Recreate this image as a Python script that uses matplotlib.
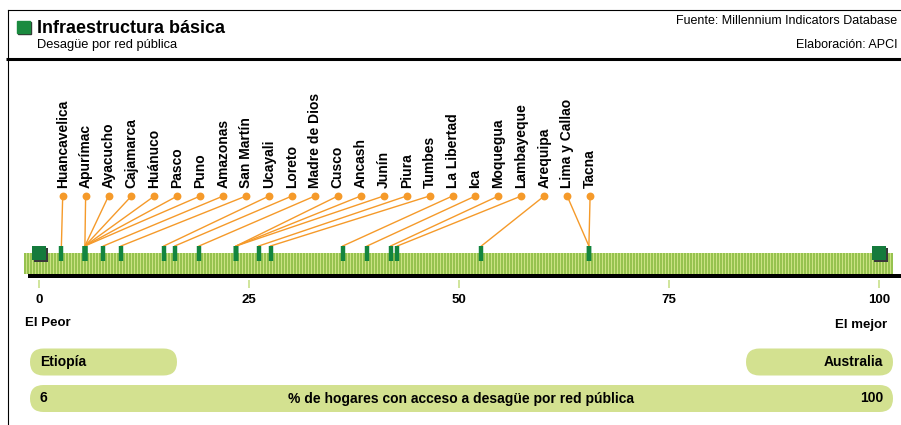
import numpy as np
import matplotlib
matplotlib.use("Agg")
import matplotlib.pyplot as plt
from matplotlib.patches import Rectangle, FancyBboxPatch

# regiones ordenadas de menor a mayor (% hogares con desague por red publica)
regions = ["Huancavelica", "Apurímac", "Ayacucho", "Cajamarca", "Huánuco", "Pasco",
           "Puno", "Amazonas", "San Martín", "Ucayali", "Loreto", "Madre de Dios",
           "Cusco", "Ancash", "Junín", "Piura", "Tumbes", "La Libertad", "Ica",
           "Moquegua", "Lambayeque", "Arequipa", "Lima y Callao", "Tacna"]
values = [2.7, 5.5, 5.5, 5.5, 5.5, 5.5, 5.5, 7.7, 9.8, 14.9, 16.2, 19.1,
          23.5, 23.5, 23.5, 26.2, 27.6, 36.2, 39.1, 41.9, 42.7, 52.7, 65.5, 65.5]
ticks = [0, 25, 50, 75, 100]
worst_name, best_name = "Etiopía", "Australia"
worst_val, best_val = "6", "100"

W, H = 901, 425
X0, PPU = 38.7, 8.4          # pixel of value 0, pixels per unit

DARK = "#13853f"
ORANGE = "#f59a2a"
PILL = "#d3e190"
BOLD = ["Liberation Sans", "DejaVu Sans"]
NARROW = ["Liberation Sans Narrow", "Liberation Sans", "DejaVu Sans"]

fig = plt.figure(figsize=(W / 100, H / 100), dpi=100)
lay = fig.add_axes([0, 0, 1, 1])
lay.set_xlim(0, W)
lay.set_ylim(H, 0)
lay.axis("off")
ax = fig.add_axes([0, 0, 1, 1])
ax.set_xlim(-X0 / PPU, (W - X0) / PPU)
ax.set_ylim(H, 0)
ax.axis("off")
ax.patch.set_alpha(0)

# frame / header
lay.plot([8, W], [10, 10], color="black", lw=0.8)
lay.plot([8, 8], [10, H], color="black", lw=0.8)
lay.plot([6, W], [58.5, 58.5], color="black", lw=2.2, solid_capstyle="butt")
lay.add_patch(Rectangle((18.3, 21.7), 12.5, 12.5, color="#333333"))
lay.add_patch(Rectangle((17.3, 20.7), 12.5, 12.5, color="#1a8a3f"))
lay.text(37, 28, "Infraestructura básica", family=BOLD, weight="heavy",
         fontsize=13, va="center", ha="left")
lay.text(37, 45, "Desagüe por red pública", family=BOLD, fontsize=9.3,
         va="center", ha="left")
lay.text(897, 21, "Fuente: Millennium Indicators Database", family=NARROW,
         fontsize=9, va="center", ha="right")
lay.text(897, 45, "Elaboración: APCI", family=NARROW, fontsize=9,
         va="center", ha="right")

# striped band
lay.add_patch(Rectangle((24, 252.7), 869, 21.6, color="#cbe283", lw=0))
lay.vlines(np.arange(25, 893, 3), 252.7, 274.3, color="#96c24f", lw=1.44)
lay.add_patch(Rectangle((28, 274.3), W - 28, 4, color="black", lw=0))

# end squares
ends = [ticks[0], ticks[-1]]
ax.scatter([e + 2.2 / PPU for e in ends], [254.7, 254.7], marker="s", s=90,
           color="#3a3a3a", zorder=4, linewidths=0)
ax.scatter(ends, [252.5, 252.5], marker="s", s=90, color="#157a3c",
           zorder=5, linewidths=0)

# leader lines, dots and labels
lbl_x = [(62.7 - X0) / PPU + i * 22.93 / PPU for i in range(len(regions))]
for lx, v, name in zip(lbl_x, values, regions):
    ax.plot([lx, v], [196, 246], color=ORANGE, lw=1.0, zorder=3)
    ax.text(lx, 188, name, rotation=90, ha="center", va="bottom",
            family=BOLD, weight="bold", fontsize=10)
ax.scatter(lbl_x, [196] * len(lbl_x), s=32, color=ORANGE, zorder=4,
           linewidths=0)
ax.vlines(values, 246, 261, color=DARK, lw=3.2, zorder=6)

# ticks
ax.vlines(ticks, 280, 288, color="#c8e08a", lw=1.2)
for t in ticks:
    ax.text(t, 300, str(t), ha="center", va="center", family=BOLD,
            weight="bold", fontsize=9.5)
lay.text(25, 323, "El Peor", ha="left", va="center", family=BOLD,
         weight="bold", fontsize=9.5)
lay.text(887, 325, "El mejor", ha="right", va="center", family=BOLD,
         weight="bold", fontsize=9.5)

# pills
def pill(x0, x1, y0, y1):
    r = (y1 - y0) / 2
    lay.add_patch(FancyBboxPatch((x0, y0), x1 - x0, y1 - y0,
                                 boxstyle="round,pad=0,rounding_size=%g" % r,
                                 color=PILL, lw=0))

pill(30, 177, 348.5, 375.5)
pill(746, 893, 348.5, 375.5)
pill(30, 893, 385, 412)
lay.text(40, 362, worst_name, ha="left", va="center", family=NARROW,
         weight="bold", fontsize=10)
lay.text(883, 362, best_name, ha="right", va="center", family=NARROW,
         weight="bold", fontsize=10)
lay.text(40, 398.5, worst_val, ha="left", va="center", family=NARROW,
         weight="bold", fontsize=10)
lay.text(883, 398.5, best_val, ha="right", va="center", family=NARROW,
         weight="bold", fontsize=10)
lay.text(461, 398.5, "% de hogares con acceso a desagüe por red pública",
         ha="center", va="center", family=NARROW, weight="bold", fontsize=10)

fig.savefig("out.png", dpi=100)
